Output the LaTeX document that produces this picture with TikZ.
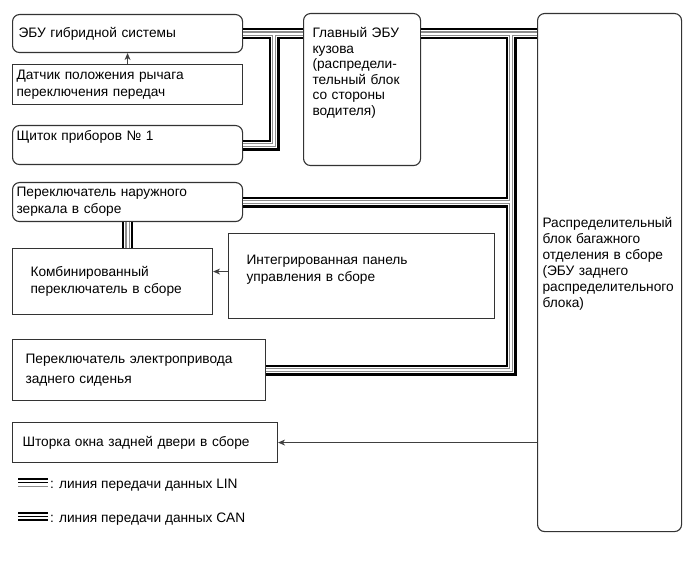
\documentclass[tikz,border=0pt]{standalone}
\usepackage{fontspec}
\setmainfont{Liberation Sans}
\usetikzlibrary{arrows.meta}
\usetikzlibrary{positioning}

\tikzset{
  ecu/.style={draw=black!80, line width=1.1pt, rounded corners=7pt, anchor=north west,
    align=left, font=\fontsize{13.7}{16.8}\selectfont},
  unit/.style={ecu, rounded corners=0pt},
  arr/.style={-{Stealth[length=7pt,width=6pt]}, black!75, line width=0.8pt},
}

\begin{document}
\begin{tikzpicture}[x=1pt, y=-1pt]
        \useasboundingbox (0,0) rectangle (690,561);
        % units
        \node [ecu, minimum width=230pt, minimum height=38pt, text width=218pt, inner xsep=6pt] (hyb) at (12,14) {ЭБУ гибридной системы};
        \node [unit, minimum width=230pt, minimum height=40pt, text width=222pt, inner xsep=4pt] (sensor) at (12,64) {Датчик положения рычага\\переключения передач};
        \node [ecu, text width=222pt, inner xsep=4pt, inner ysep=0pt, text height=15pt, text depth=24pt] (panel) at (12,125) {Щиток приборов №~1};
        \node [ecu, text width=99pt, inner xsep=9pt, inner ysep=0pt, text height=24pt, text depth=128pt, font=\fontsize{13.7}{15.6}\selectfont] (main) at (303,13) {Главный ЭБУ\\кузова\\(распредели-\\тельный блок\\со стороны\\водителя)};
        \node [ecu, text width=134pt, inner xsep=5pt, inner ysep=0pt, text height=214pt, text depth=304pt, font=\fontsize{13.7}{16}\selectfont] (dist) at (537,13) {Распределительный\\блок багажного\\отделения в сборе\\(ЭБУ заднего\\распределительного\\блока)};
        \node [ecu, minimum width=230pt, minimum height=39pt, text width=222pt, inner xsep=4pt] (mirror) at (12,182) {Переключатель наружного\\зеркала в сборе};
        \node [unit, minimum width=200pt, minimum height=66pt, text width=164pt, inner xsep=18pt] (comb) at (12,248) {Комбинированный\\переключатель в сборе};
        \node [unit, text width=230pt, inner xsep=18pt, inner ysep=0pt, text height=31pt, text depth=54pt] (integ) at (228,233) {Интегрированная панель\\управления в сборе};
        \node [unit, minimum width=253pt, minimum height=61pt, text width=227pt, inner xsep=13pt, font=\fontsize{13.7}{20}\selectfont] (elec) at (12,339) {Переключатель электропривода\\заднего сиденья};
        \node [unit, minimum width=265pt, minimum height=40pt, text width=245pt, inner xsep=10pt] (shade) at (12,422) {Шторка окна задней двери в сборе};

        % bus junctions
        \coordinate (jA) at ([xshift=31pt]hyb.east);
        \coordinate (jB) at ([xshift=90pt]main.east |- hyb.east);

        % data lines, drawn in layers so that the branches merge
        \foreach \w/\c in {11/black,6.5/white,4.5/black!45,2/white}{
          \draw [line width=\w pt, color=\c] (hyb.east) -- (main.west |- hyb.east)
            (panel.east) -| (jA)
            (main.east |- hyb.east) -- (dist.west |- hyb.east)
            (elec.east) -| (jB)
            (mirror.east) -- (mirror.east -| jB)
            (mirror.south) -- (mirror.south |- comb.north);
        }

        % signal arrows
        \draw [arr] (sensor) -- (hyb);
        \draw [arr] ([yshift=4.5pt]integ.west) -- ([yshift=4.5pt]integ.west -| comb.east);
        \draw [arr] (shade.east -| dist.west) -- (shade.east);

        % legend
        \draw [line width=1.6pt] (18,479) -- (48,479);
        \draw [line width=1.6pt] (18,482.5) -- (48,482.5);
        \draw [line width=1pt, black!45] (18,486) -- (48,486);
        \node [anchor=base west, font=\fontsize{13.7}{16}\selectfont, inner sep=0pt] (lin) at (50,488) {: линия передачи данных LIN};
        \draw [line width=1.6pt] (18,513) -- (48,513);
        \draw [line width=1.6pt] (18,516.5) -- (48,516.5);
        \draw [line width=1.6pt] (18,520) -- (48,520);
        \node [anchor=base west, font=\fontsize{13.7}{16}\selectfont, inner sep=0pt] (can) at (50,522) {: линия передачи данных CAN};
\end{tikzpicture}
\end{document}
